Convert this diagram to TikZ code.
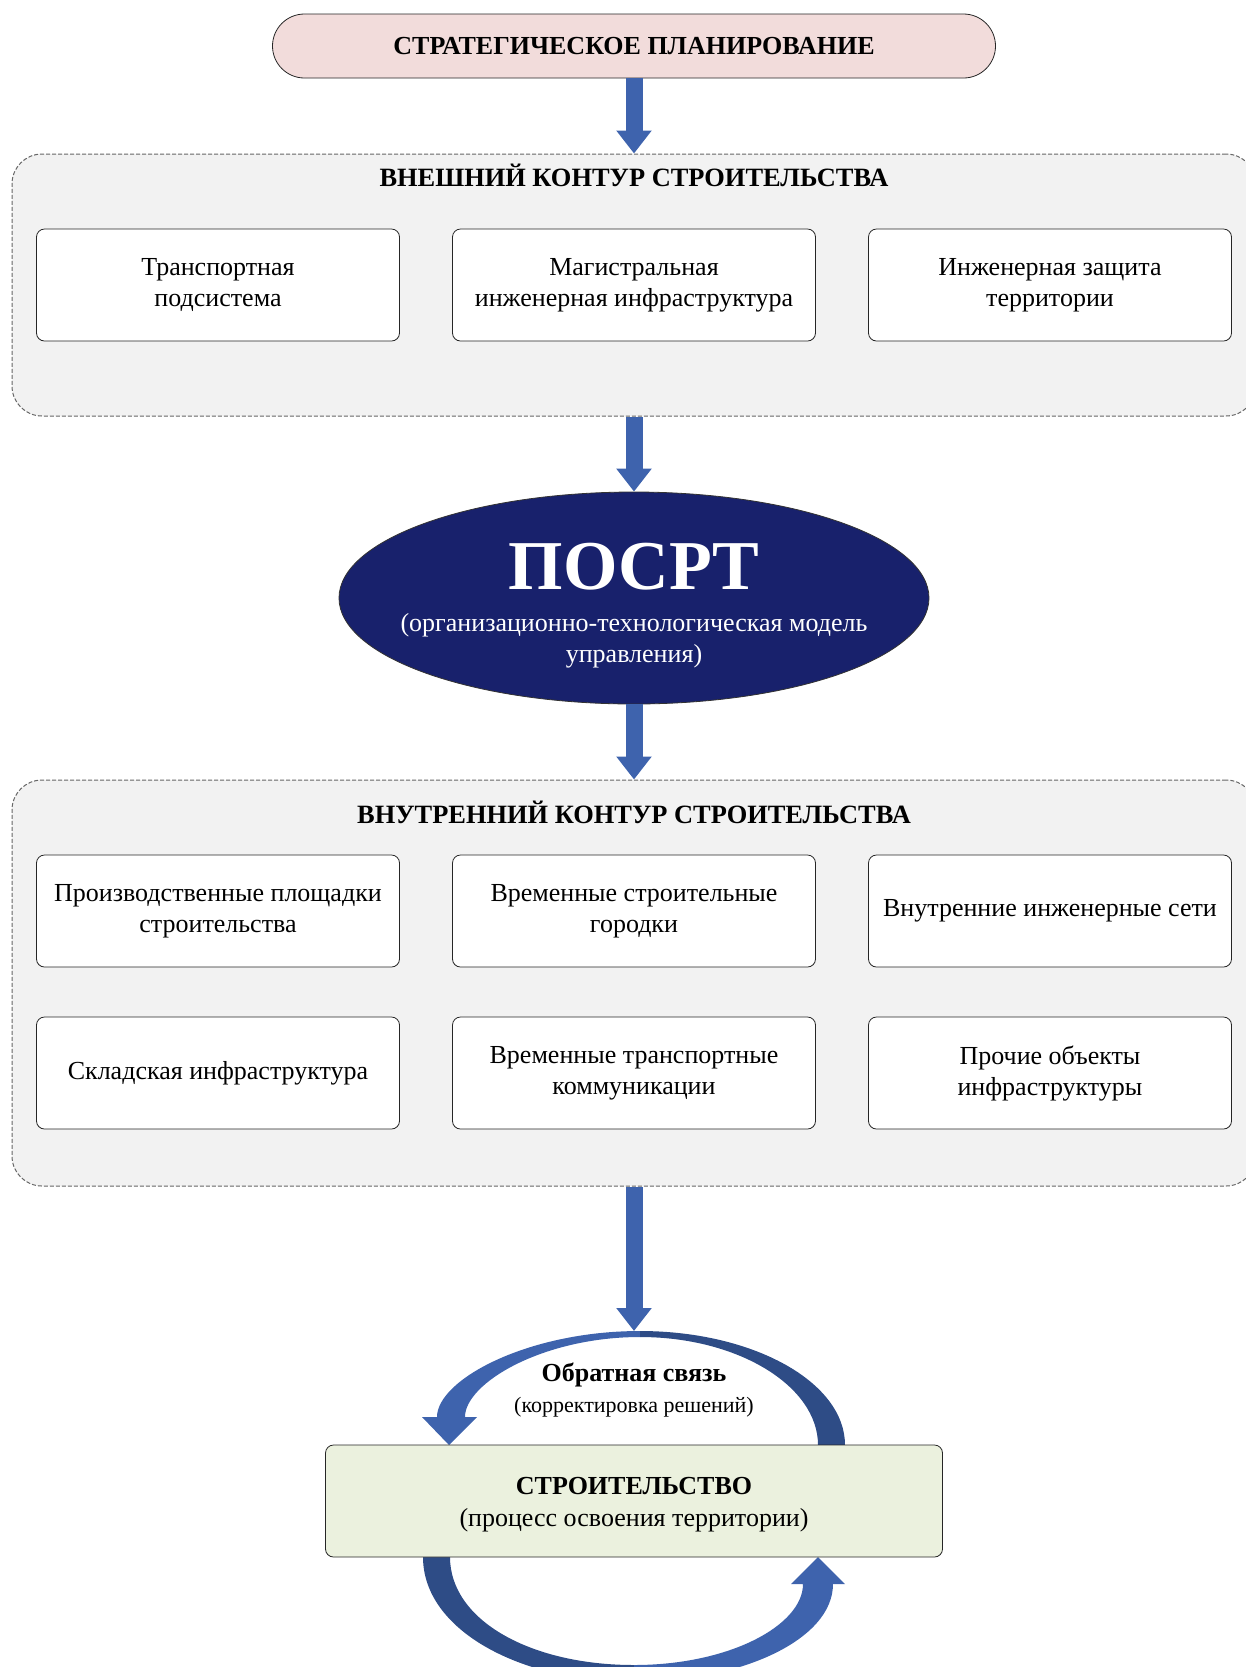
\documentclass[tikz,border=0pt]{standalone}
\usepackage{fontspec}
\setmainfont{Liberation Serif}
\usetikzlibrary{shapes.geometric,arrows.meta}

\definecolor{planpink}{RGB}{242,220,219}
\definecolor{contourgray}{RGB}{242,242,242}
\definecolor{posrtblue}{RGB}{24,33,108}
\definecolor{arrowblue}{RGB}{62,99,173}
\definecolor{arcdark}{RGB}{46,76,134}
\definecolor{buildgreen}{RGB}{235,241,222}

\tikzset{
  plan/.style={draw=black!85, fill=planpink, rounded corners=16pt, minimum width=361.5pt,
    minimum height=32pt, font=\fontsize{13}{15.5}\selectfont\bfseries},
  contour/.style={draw=black!60, line width=0.5pt, dash pattern=on 2pt off 1pt,
    fill=contourgray, rounded corners=15pt, minimum width=622pt},
  contourtitle/.style={font=\fontsize{13.2}{15.5}\selectfont\bfseries},
  unitbox/.style={draw=black!85, fill=white, rounded corners=4pt, minimum width=181.5pt,
    minimum height=56pt, align=center, font=\fontsize{13}{15.5}\selectfont},
  blockarrow/.style={arrowblue, line width=8.5pt, -{Triangle[width=17pt,length=11.5pt]}},
}

\begin{document}
\begin{tikzpicture}[x=0.5pt, y=-0.5pt]
  \useasboundingbox (0,0) rectangle (1246,1667);

  \node[plan] (plan) at (634,46) {СТРАТЕГИЧЕСКОЕ ПЛАНИРОВАНИЕ};

  \node[contour, minimum height=131pt] (outer) at (634,285) {};
  \node[contourtitle] (outertitle) at (634,175) {ВНЕШНИЙ КОНТУР СТРОИТЕЛЬСТВА};
  \node[unitbox] (transp) at (218,285) {Транспортная\\подсистема};
  \node[unitbox] (magistr) at (634,285) {Магистральная\\инженерная инфраструктура};
  \node[unitbox] (protect) at (1050,285) {Инженерная защита\\территории};

  \node[ellipse, fill=posrtblue, draw=black!80, minimum width=295pt, minimum height=106pt] (posrt) at (634,598) {};
  \node[text=white, font=\fontsize{35}{40}\selectfont\bfseries] (posrttitle) at (634,567) {ПОСРТ};
  \node[text=white, align=center, font=\fontsize{13}{15.5}\selectfont] (posrtsub) at (634,641)
    {(организационно-технологическая модель\\управления)};

  \node[contour, minimum height=203pt] (inner) at (634,983) {};
  \node[contourtitle] (innertitle) at (634,812) {ВНУТРЕННИЙ КОНТУР СТРОИТЕЛЬСТВА};
  \node[unitbox] (sites) at (218,911) {Производственные площадки\\строительства};
  \node[unitbox] (camps) at (634,911) {Временные строительные\\городки};
  \node[unitbox] (nets) at (1050,911) {Внутренние инженерные сети};
  \node[unitbox] (store) at (218,1073) {Складская инфраструктура};
  \node[unitbox] (roads) at (634,1073) {Временные транспортные\\коммуникации};
  \node[unitbox] (other) at (1050,1073) {Прочие объекты\\инфраструктуры};

  \draw[blockarrow] (plan.south) -- (outer.north);
  \draw[blockarrow] (outer.south) -- (posrt.north);
  \draw[blockarrow] (posrt.south) -- (inner.north);

  \fill[arrowblue] (640,1331) .. controls (527,1331) and (437,1380) .. (437,1417) -- (422,1417)
    -- (449,1445) -- (477,1417) -- (465,1417) .. controls (465,1383) and (543,1337) .. (640,1337) -- cycle;
  \fill[arcdark] (640,1331) .. controls (753,1331) and (845,1382) .. (845,1445) -- (818,1445)
    .. controls (818,1386) and (738,1337) .. (640,1337) -- cycle;
  \fill[arcdark] (423,1557) .. controls (423,1630) and (520,1682) .. (634,1682) -- (634,1665)
    .. controls (530,1665) and (450,1620) .. (450,1557) -- cycle;
  \fill[arrowblue] (634,1682) .. controls (740,1682) and (833,1640) .. (833,1584) -- (845,1584)
    -- (818,1557) -- (791,1584) -- (803,1584) .. controls (803,1625) and (730,1665) .. (634,1665) -- cycle;

  \coordinate (arctop) at (634,1331);
  \draw[blockarrow] (inner.south) -- (arctop);

  \node[align=center, font=\fontsize{13}{15.5}\selectfont] (feedback) at (634,1390)
    {\textbf{Обратная связь}\\[0pt]{\fontsize{11}{13}\selectfont(корректировка решений)}};

  \node[draw=black!85, fill=buildgreen, rounded corners=4pt, minimum width=308.5pt, minimum height=56pt] (build) at (634,1501) {};
  \node[align=center, font=\fontsize{13}{16}\selectfont] (buildtext) at (634,1505)
    {\textbf{СТРОИТЕЛЬСТВО}\\(процесс освоения территории)};
\end{tikzpicture}
\end{document}
